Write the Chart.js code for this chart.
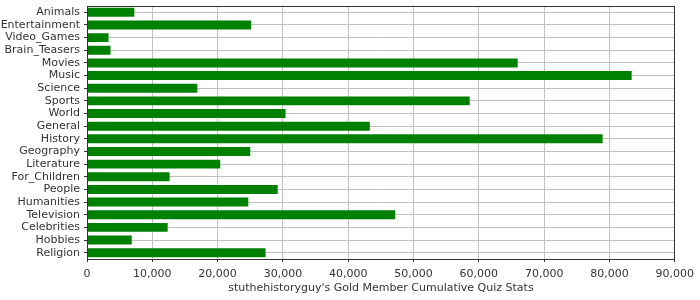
<!DOCTYPE html>
<html>
<head>
<meta charset="utf-8">
<script src="https://cdn.jsdelivr.net/npm/chart.js@4/dist/chart.umd.min.js"></script>
<style>
  html, body { margin: 0; padding: 0; background: #fff; }
  #wrap { width: 700px; height: 300px; }
</style>
</head>
<body>
<div id="wrap"><canvas id="quizChart"></canvas></div>
<script>
// categories and values
const categories = ['Animals', 'Entertainment', 'Video_Games', 'Brain_Teasers', 'Movies', 'Music',
    'Science', 'Sports', 'World', 'General', 'History', 'Geography', 'Literature', 'For_Children',
    'People', 'Humanities', 'Television', 'Celebrities', 'Hobbies', 'Religion'];
const quizStats = [7250, 25150, 3300, 3600, 65950, 83400, 16900, 58600, 30400, 43300,
    78950, 25000, 20400, 12650, 29200, 24700, 47200, 12350, 6850, 27350];
const xMax = 90000;
const xStep = 10000;
const axisTitle = "stuthehistoryguy's Gold Member Cumulative Quiz Stats";

const TEXT = '#333';
const GRID = '#c0c0c0';
const FONT = { family: 'DejaVu Sans', size: 11 };

// frame round the plot area
const frame = {
    id: 'frame',
    afterDraw(chart) {
        const a = chart.chartArea;
        const c = chart.ctx;
        c.save();
        c.strokeStyle = '#333';
        c.lineWidth = 1;
        c.strokeRect(Math.round(a.left) + 0.5, Math.round(a.top) + 0.5,
            Math.round(a.right - a.left) - 1, Math.round(a.bottom - a.top));
        c.restore();
    }
};

let ctx = document.getElementById('quizChart').getContext('2d');
let quizChart = new Chart(ctx, {
    type: 'bar',
    data: {
        labels: categories,
        datasets: [{
            data: quizStats,
            backgroundColor: '#008000',
            borderWidth: 0,
            categoryPercentage: 1,
            barPercentage: 0.71
        }]
    },
    options: {
        indexAxis: 'y',
        responsive: true,
        maintainAspectRatio: false,
        animation: false,
        layout: { padding: { left: 0, right: 25, top: 6, bottom: 0 } },
        plugins: {
            legend: { display: false },
            tooltip: { enabled: false }
        },
        scales: {
            x: {
                min: 0,
                max: xMax,
                grid: { color: GRID, tickColor: '#333', tickLength: 3 },
                border: { color: '#333' },
                ticks: {
                    stepSize: xStep,
                    color: TEXT,
                    font: FONT,
                    padding: 6,
                    maxRotation: 0,
                    callback: v => v.toLocaleString('en-US')
                },
                title: {
                    display: true,
                    text: axisTitle,
                    color: TEXT,
                    font: FONT,
                    padding: { top: 0, bottom: 5 }
                },
                afterFit(scale) { scale.height = 41; }
            },
            y: {
                grid: { color: GRID, tickColor: '#333', tickLength: 3, offset: false },
                border: { color: '#333' },
                ticks: { color: TEXT, font: FONT, padding: 4, autoSkip: false },
                afterFit(scale) {
                    scale.width = 87;
                    scale.paddingTop = 0;
                    scale.paddingBottom = 0;
                }
            }
        }
    },
    plugins: [frame]
});
</script>
</body>
</html>
